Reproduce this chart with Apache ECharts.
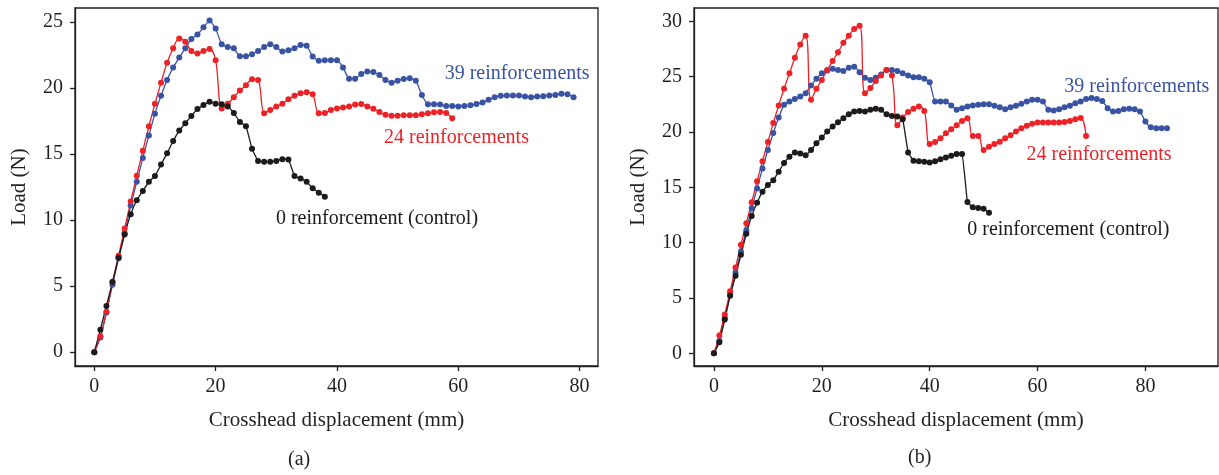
<!DOCTYPE html>
<html>
<head>
<meta charset="utf-8">
<script src="https://cdn.jsdelivr.net/npm/echarts@6/dist/echarts.min.js"></script>
<style>
  html, body { margin: 0; padding: 0; background: #fff; }
  #chart { width: 1219px; height: 475px; }
</style>
</head>
<body>
<div id="chart"></div>
<script>
// load (N) sampled every 1 mm of crosshead displacement
const xTicks = [0, 20, 40, 60, 80];
const yTicksA = [0, 5, 10, 15, 20, 25];
const yTicksB = [0, 5, 10, 15, 20, 25, 30];

// panel (a)
const loadA39 = [0, 1.1, 3.0, 5.1, 7.1, 9.0, 11.1, 12.9, 14.7, 16.4, 18.05, 19.4, 20.6, 21.55, 22.3, 23.0,
  23.7, 24.05, 24.6, 25.1, 24.5, 23.3, 23.1, 23.0, 22.4, 22.4, 22.55, 22.8, 23.1, 23.3, 23.1, 22.75,
  22.85, 23.0, 23.25, 23.2, 22.37, 22.05, 22.1, 22.1, 22.1, 21.55, 20.7, 20.7, 21.06, 21.24, 21.2,
  20.98, 20.6, 20.4, 20.55, 20.68, 20.73, 20.55, 19.47, 18.76, 18.76, 18.74, 18.64, 18.64, 18.6,
  18.64, 18.68, 18.78, 18.9, 19.1, 19.3, 19.4, 19.42, 19.42, 19.42, 19.35, 19.3, 19.35, 19.37,
  19.42, 19.47, 19.55, 19.52, 19.3];
const loadA24 = [0, 1.2, 3.05, 5.3, 7.3, 9.35, 11.4, 13.36, 15.25, 17.1, 18.8, 20.4, 21.9, 23.0, 23.75,
  23.5, 22.8, 22.6, 22.8, 22.95, 22.1, 18.45, 18.8, 19.3, 19.8, 20.2, 20.65, 20.6, 18.08, 18.33,
  18.6, 18.8, 19.15, 19.4, 19.6, 19.67, 19.52, 18.08, 18.1, 18.33, 18.45, 18.52, 18.6, 18.74,
  18.78, 18.6, 18.43, 18.18, 17.96, 17.9, 17.9, 17.93, 17.93, 17.93, 18.0, 18.08, 18.15, 18.18,
  18.1, 17.7];
const loadA0 = [0, 1.7, 3.5, 5.3, 7.15, 8.9, 10.43, 11.5, 12.2, 12.9, 13.33, 14.2, 15.05, 15.98, 16.77,
  17.32, 17.88, 18.4, 18.7, 18.96, 18.8, 18.76, 18.6, 18.1, 17.42, 17.1, 15.4, 14.47, 14.42, 14.42,
  14.47, 14.6, 14.58, 13.33, 13.15, 12.9, 12.4, 12.07, 11.77];

// panel (b)
const loadB39 = [0, 1.1, 3.2, 5.3, 7.3, 9.2, 11.1, 13.1, 14.9, 16.7, 18.36, 19.9, 21.3, 22.45, 22.76,
  22.97, 23.2, 23.5, 24.2, 24.8, 25.3, 25.55, 25.7, 25.6, 25.5, 25.8, 25.9, 25.4, 24.9, 24.7, 24.9,
  25.2, 25.6, 25.6, 25.5, 25.3, 25.1, 24.95, 24.95, 24.8, 24.5, 22.76, 22.76, 22.76, 22.4, 22.0,
  22.15, 22.3, 22.4, 22.45, 22.5, 22.5, 22.36, 22.24, 22.06, 22.24, 22.36, 22.55, 22.76, 22.9, 22.9,
  22.76, 22.0, 21.94, 22.06, 22.24, 22.36, 22.6, 22.76, 22.97, 23.06, 22.97, 22.8, 22.15, 21.85,
  21.9, 22.06, 22.1, 22.06, 21.85, 20.94, 20.42, 20.33, 20.33, 20.33];
const loadB24 = [0, 1.6, 3.5, 5.6, 7.75, 9.8, 11.75, 13.65, 15.55, 17.36, 19.1, 20.8, 22.4, 23.9, 25.3,
  26.7, 27.9, 28.7, 22.9, 23.9, 24.7, 25.6, 26.4, 27.2, 28.05, 28.7, 29.3, 29.6, 23.5, 23.97, 24.6,
  25.1, 25.6, 25.1, 20.6, 21.3, 21.8, 22.1, 22.3, 21.9, 18.9, 19.1, 19.42, 19.88, 20.24, 20.6, 21.0,
  21.24, 19.64, 19.64, 18.36, 18.67, 18.9, 19.12, 19.42, 19.7, 20.03, 20.33, 20.55, 20.73, 20.85,
  20.85, 20.85, 20.85, 20.85, 20.9, 21.0, 21.15, 21.25, 19.64];
const loadB0 = [0, 1.0, 3.05, 5.2, 7.0, 8.9, 10.8, 12.4, 13.6, 14.6, 15.2, 15.64, 16.4, 17.2, 17.76,
  18.15, 18.06, 17.9, 18.36, 18.97, 19.5, 20.03, 20.5, 20.88, 21.24, 21.6, 21.85, 21.9, 21.85, 22.0,
  22.1, 22.0, 21.6, 21.45, 21.4, 21.15, 18.15, 17.4, 17.36, 17.3, 17.24, 17.36, 17.54, 17.7, 17.85,
  18.0, 18.0, 13.67, 13.2, 13.12, 13.06, 12.7];

const BLUE = '#3953a4';
const RED = '#ec2227';
const BLACK = '#1c1a1b';
const FONT = 'Liberation Serif';

const chart = echarts.init(document.getElementById('chart'));

function toPairs(arr) {
    return arr.map((v, i) => [i, v]);
}

function curve(idx, name, data, color, smooth, label, at) {
    return {
        name: name,
        type: 'line',
        xAxisIndex: idx,
        yAxisIndex: idx,
        data: toPairs(data),
        smooth: smooth,
        symbol: 'circle',
        symbolSize: 6,
        showSymbol: true,
        lineStyle: { color: color, width: 1.3 },
        itemStyle: { color: color },
        animation: false,
        markPoint: {
            silent: true,
            animation: false,
            symbol: 'circle',
            symbolSize: 0,
            data: [{
                coord: at,
                label: {
                    show: true,
                    position: 'inside',
                    formatter: label,
                    color: color,
                    fontFamily: FONT,
                    fontSize: 20
                }
            }]
        }
    };
}

function xAxis(idx, min, max) {
    return {
        type: 'value',
        gridIndex: idx,
        min: min,
        max: max,
        name: 'Crosshead displacement (mm)',
        nameLocation: 'middle',
        nameGap: 44,
        nameTextStyle: { fontFamily: FONT, fontSize: 21, color: '#231f20' },
        axisLine: { show: true, onZero: false, lineStyle: { color: '#231f20', width: 1.3 } },
        axisTick: { show: true, length: 5, customValues: xTicks, lineStyle: { color: '#231f20', width: 1.3 } },
        axisLabel: { customValues: xTicks, margin: 11, fontFamily: FONT, fontSize: 20, color: '#231f20' },
        splitLine: { show: false }
    };
}

function yAxis(idx, min, max, ticks) {
    return {
        type: 'value',
        gridIndex: idx,
        min: min,
        max: max,
        name: 'Load (N)',
        nameLocation: 'middle',
        nameGap: 45,
        nameTextStyle: { fontFamily: FONT, fontSize: 21, color: '#231f20' },
        axisLine: { show: true, onZero: false, lineStyle: { color: '#231f20', width: 1.3 } },
        axisTick: { show: true, length: 5, customValues: ticks, lineStyle: { color: '#231f20', width: 1.3 } },
        axisLabel: { customValues: ticks, margin: 12, fontFamily: FONT, fontSize: 20, color: '#231f20' },
        splitLine: { show: false }
    };
}

const option = {
    backgroundColor: '#fff',
    animation: false,
    grid: [
        { left: 75, top: 8, width: 523, height: 358, show: true, borderColor: '#231f20', borderWidth: 1.3, containLabel: false },
        { left: 694, top: 8, width: 524, height: 358, show: true, borderColor: '#231f20', borderWidth: 1.3, containLabel: false }
    ],
    xAxis: [xAxis(0, -3.18, 83.03), xAxis(1, -3.7, 93.46)],
    yAxis: [yAxis(0, -1.05, 26.05, yTicksA), yAxis(1, -1.15, 31.2, yTicksB)],
    graphic: [
        { type: 'text', left: 288, top: 450, style: { text: '(a)', font: '20px "Liberation Serif"', fill: '#231f20' } },
        { type: 'text', left: 908, top: 448, style: { text: '(b)', font: '20px "Liberation Serif"', fill: '#231f20' } }
    ],
    series: [
        curve(0, '39 reinforcements', loadA39, BLUE, 0.15, '39 reinforcements', [69.7, 21.1]),
        curve(0, '24 reinforcements', loadA24, RED, 0.35, '24 reinforcements', [59.7, 16.2]),
        curve(0, '0 reinforcement (control)', loadA0, BLACK, 0.1, '0 reinforcement (control)', [46.6, 10.1]),
        curve(1, '39 reinforcements', loadB39, BLUE, 0.15, '39 reinforcements', [78.4, 24.1]),
        curve(1, '24 reinforcements', loadB24, RED, 0.45, '24 reinforcements', [71.4, 17.9]),
        curve(1, '0 reinforcement (control)', loadB0, BLACK, 0.1, '0 reinforcement (control)', [65.7, 11.2])
    ]
};

chart.setOption(option);
</script>
</body>
</html>
